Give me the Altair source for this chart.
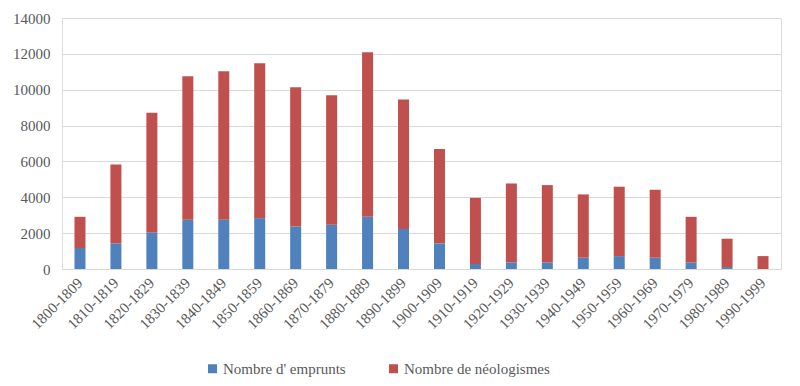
import altair as alt
import pandas as pd

periods = ["1800-1809", "1810-1819", "1820-1829", "1830-1839", "1840-1849",
           "1850-1859", "1860-1869", "1870-1879", "1880-1889", "1890-1899",
           "1900-1909", "1910-1919", "1920-1929", "1930-1939", "1940-1949",
           "1950-1959", "1960-1969", "1970-1979", "1980-1989", "1990-1999"]
emprunts = [1170, 1430, 2040, 2750, 2750, 2840, 2370, 2470, 2910, 2230,
            1430, 280, 370, 370, 630, 720, 630, 370, 110, 0]
neologismes = [1740, 4400, 6680, 8000, 8280, 8640, 7770, 7220, 9180, 7220,
               5270, 3690, 4400, 4310, 3530, 3870, 3790, 2540, 1580, 720]
series = ["Nombre d' emprunts", "Nombre de néologismes"]
colors = ["#4f81bd", "#c0504d"]
y_ticks = [0, 2000, 4000, 6000, 8000, 10000, 12000, 14000]

rows = []
for i, p in enumerate(periods):
    rows.append({"periode": p, "serie": series[0], "valeur": emprunts[i], "ordre": 0})
    rows.append({"periode": p, "serie": series[1], "valeur": neologismes[i], "ordre": 1})
df = pd.DataFrame(rows)

FONT = "Liberation Serif, DejaVu Serif, serif"
GRAY = "#595959"

chart = alt.Chart(df).mark_bar(size=11).encode(
    x=alt.X("periode:N", sort=periods, title=None,
            scale=alt.Scale(paddingInner=0, paddingOuter=0),
            axis=alt.Axis(labelAngle=-45, labelAlign="right", labelBaseline="middle",
                          labelPadding=11, ticks=False, domainColor="#d9d9d9",
                          labelFont=FONT, labelFontSize=15, labelColor=GRAY,
                          grid=False)),
    y=alt.Y("valeur:Q", stack="zero", title=None,
            scale=alt.Scale(domain=[0, 14000], nice=False),
            axis=alt.Axis(values=y_ticks, format="d", domain=False, ticks=False,
                          labelPadding=12, labelFont=FONT, labelFontSize=15,
                          labelColor=GRAY, gridColor="#d9d9d9", gridWidth=1)),
    color=alt.Color("serie:N", sort=series,
                    scale=alt.Scale(domain=series, range=colors),
                    legend=alt.Legend(title=None, orient="none", direction="horizontal",
                                      legendX=143, legendY=343,
                                      symbolType="square", symbolSize=81,
                                      symbolStrokeWidth=0,
                                      labelFont=FONT, labelFontSize=15, labelColor=GRAY,
                                      columnPadding=40, labelOffset=3)),
    order=alt.Order("ordre:Q", sort="ascending"),
).properties(
    width=719, height=251,
    autosize=alt.AutoSizeParams(type="none"),
    padding={"left": 54, "top": 10, "right": 11, "bottom": 109},
).configure_view(stroke=None).configure(background="white", font=FONT)

chart.save("out.html", embed_options={"renderer": "svg", "actions": False})
